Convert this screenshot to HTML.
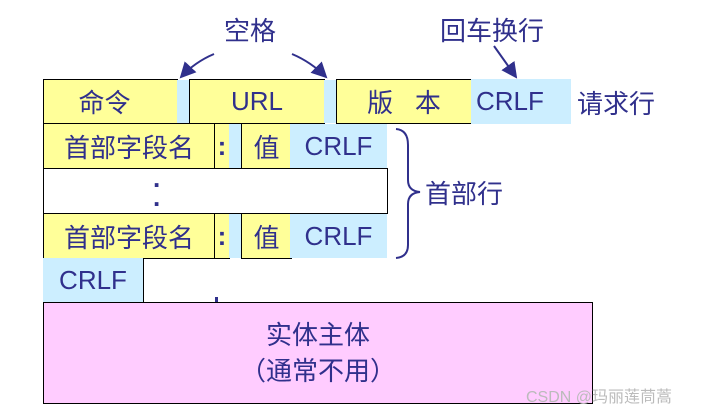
<!DOCTYPE html>
<html><head><meta charset="utf-8"><style>
body{margin:0;width:712px;height:413px;background:#fff;position:relative;overflow:hidden;font-family:"Liberation Sans","Noto Sans CJK SC",sans-serif;color:#30308c}
.b{position:absolute;box-sizing:border-box;display:flex;align-items:center;justify-content:center;font-size:26px}
.y{background:#ffff99;border:1.5px solid #000}
.c{background:#cceeff}
.t{position:absolute;font-size:26px;white-space:nowrap}
</style></head><body>
<div class="b y" style="left:43px;top:79px;width:135px;height:45px;padding-right:12px">命令</div>
<div class="b c" style="left:177px;top:80px;width:12px;height:43px"></div>
<div class="b y" style="left:189px;top:79px;width:136px;height:45px">URL</div>
<div class="b c" style="left:324px;top:80px;width:12px;height:43px"></div>
<div class="b y" style="left:336px;top:79px;width:136px;height:45px">版&nbsp;&nbsp;&nbsp;本</div>
<div class="b c" style="left:471px;top:79px;width:100px;height:45px;justify-content:flex-start;padding-left:5px">CRLF</div>
<div class="t" style="left:577px;top:84px">请求行</div>

<div class="b y" style="left:43px;top:123px;width:172px;height:46px">首部字段名</div>
<div class="b y" style="left:214px;top:123px;width:16px;height:46px;font-weight:bold">:</div>
<div class="b c" style="left:229px;top:124px;width:12px;height:44px"></div>
<div class="b y" style="left:241px;top:123px;width:51px;height:46px">值</div>
<div class="b c" style="left:290px;top:124px;width:97px;height:44px">CRLF</div>

<div class="b" style="left:43px;top:168px;width:345px;height:46px;border:1.5px solid #000;background:#fff"><span style="position:absolute;left:109px;top:0px;font-weight:bold;line-height:19px">.<br>.</span></div>

<div class="b y" style="left:43px;top:213px;width:172px;height:46px">首部字段名</div>
<div class="b y" style="left:214px;top:213px;width:16px;height:46px;font-weight:bold">:</div>
<div class="b c" style="left:229px;top:214px;width:12px;height:44px"></div>
<div class="b y" style="left:241px;top:213px;width:51px;height:46px">值</div>
<div class="b c" style="left:290px;top:214px;width:97px;height:44px">CRLF</div>

<div class="b c" style="left:43px;top:258px;width:101px;height:45px;border-right:1.5px solid #000">CRLF</div>
<div style="position:absolute;left:215px;top:297px;width:3px;height:6px;background:#30308c"></div>
<div class="b" style="left:43px;top:302px;width:550px;height:102px;background:#ffccff;border:1.5px solid #000;flex-direction:column;line-height:36px">实体主体<br><span>（通常不用）</span></div>

<div class="t" style="left:224px;top:11px">空格</div>
<div class="t" style="left:440px;top:11px">回车换行</div>
<div class="t" style="left:425px;top:174px">首部行</div>
<div style="position:absolute;left:526px;top:383px;font-size:16px;color:#bbb">CSDN @玛丽莲茼蒿</div>

<svg width="712" height="413" style="position:absolute;left:0;top:0" fill="none" stroke="#30308c" stroke-width="2">
<defs><marker id="a" markerWidth="8" markerHeight="8" refX="7" refY="4" orient="auto"><path d="M0,0L8,4L0,8z" fill="#30308c" stroke="none"/></marker></defs>
<path d="M214,54 Q195,62 181,77" marker-end="url(#a)"/>
<path d="M292,54 Q311,62 326,77" marker-end="url(#a)"/>
<path d="M494,46 L516,77" marker-end="url(#a)"/>
<path d="M396,129 Q408,130 408,145 L408,180 Q408,191 420,192 Q408,193 408,204 L408,245 Q408,257 396,258"/>
</svg>
</body></html>
